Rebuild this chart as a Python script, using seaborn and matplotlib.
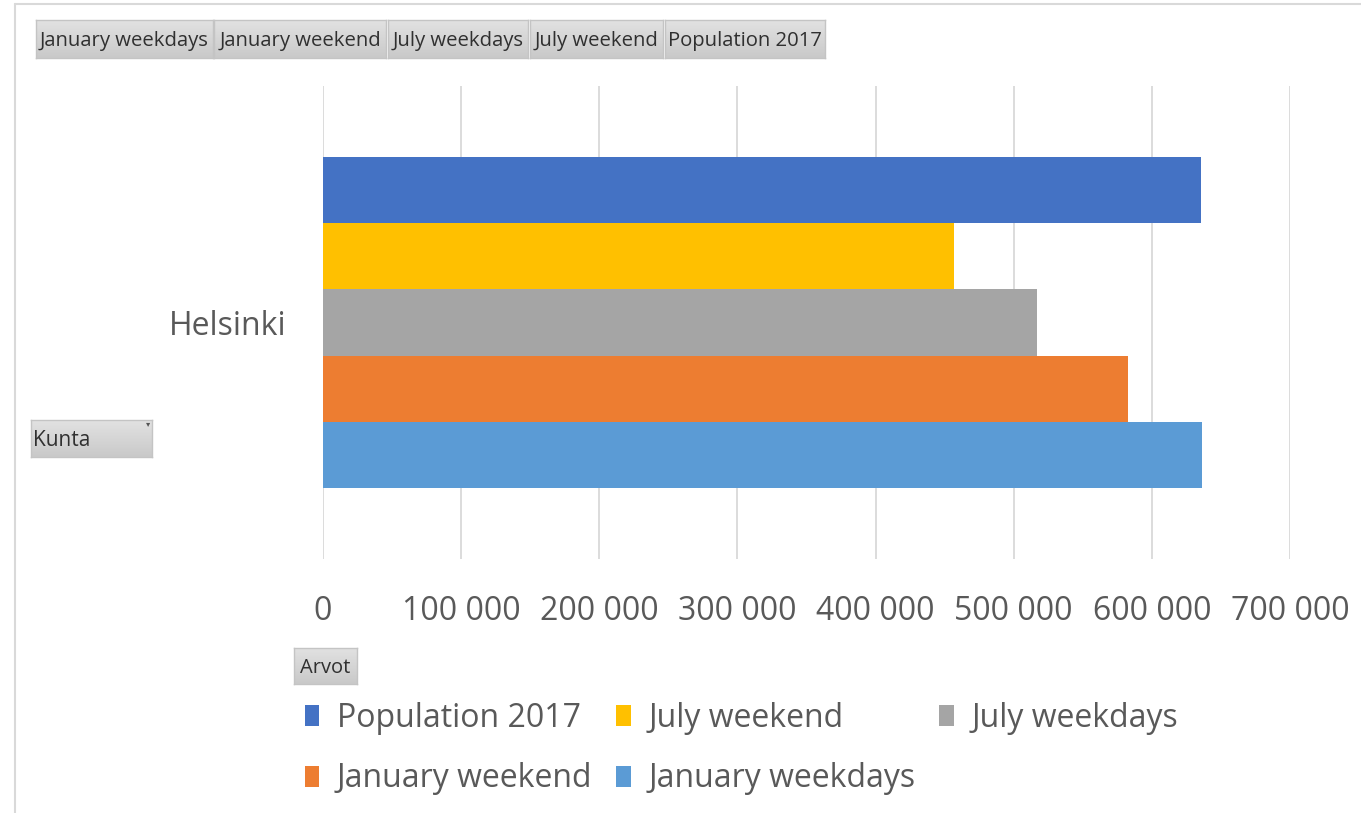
import matplotlib
matplotlib.use("Agg")
import matplotlib.pyplot as plt
from matplotlib.patches import Patch
from matplotlib.lines import Line2D
from matplotlib.ticker import FuncFormatter, MultipleLocator
from matplotlib.colors import LinearSegmentedColormap
import seaborn as sns
import pandas as pd
import numpy as np

# ---- data ----
categories = ["Helsinki"]
series = ["Population 2017", "July weekend", "July weekdays", "January weekend", "January weekdays"]
values = [635600, 457000, 517000, 583000, 636000]
colors = ["#4472C4", "#FFC000", "#A5A5A5", "#ED7D31", "#5B9BD5"]
button_labels = ["January weekdays", "January weekend", "July weekdays", "July weekend", "Population 2017"]
row_field = "Kunta"
value_field = "Arvot"

df = pd.DataFrame({
    "Kunta": [categories[0]] * len(series),
    "Series": series,
    "Value": values,
})

sns.set_style("white")
plt.rcParams["font.family"] = ["Open Sans", "DejaVu Sans"]

W, H = 1361, 813
fig = plt.figure(figsize=(W / 100, H / 100), dpi=100)

def fx(x):
    return x / W

def fy(y):
    return 1 - y / H

ax = fig.add_axes([fx(323), fy(559), (1290 - 323) / W, (559 - 86) / H])
sns.barplot(data=df, x="Value", y="Kunta", hue="Series", hue_order=series,
            palette=colors, saturation=1, width=0.7, errorbar=None,
            legend=False, ax=ax, edgecolor="none", linewidth=0)

ax.set_xlim(0, 700000)
ax.xaxis.set_major_locator(MultipleLocator(100000))
ax.xaxis.set_major_formatter(FuncFormatter(lambda v, p: f"{int(round(v)):,}".replace(",", " ")))
ax.grid(axis="x", color="#d9d9d9", linewidth=1.3)
ax.grid(axis="y", visible=False)
ax.set_axisbelow(True)
for s in ax.spines.values():
    s.set_visible(False)
ax.tick_params(axis="x", length=0, pad=26, labelsize=23, labelcolor="#595959")
ax.tick_params(axis="y", length=0, pad=26, labelsize=23, labelcolor="#595959")
ax.set_xlabel("")
ax.set_ylabel("")

# legend (row-major order as in reference)
handles = {s: Patch(facecolor=c, edgecolor="none") for s, c in zip(series, colors)}
order = ["Population 2017", "January weekend", "July weekend", "January weekdays", "July weekdays"]
fig.legend([handles[o] for o in order], order, loc="upper left",
           bbox_to_anchor=(fx(305), fy(702)), ncol=3, frameon=False,
           fontsize=23, labelcolor="#595959", handlelength=0.45, handleheight=0.65,
           handletextpad=0.55, columnspacing=0.75, labelspacing=0.86,
           borderpad=0, borderaxespad=0)

# gradient for buttons
grad = np.linspace(0, 1, 64).reshape(-1, 1)
bcmap = LinearSegmentedColormap.from_list("btn", ["#e2e2e2", "#c9c9c9"])

def button(x0, x1, y0, y1, text, ha="center", size=14.6):
    bax = fig.add_axes([fx(x0), fy(y1), (x1 - x0) / W, (y1 - y0) / H])
    bax.imshow(grad, aspect="auto", cmap=bcmap, extent=(0, 1, 0, 1), origin="upper")
    bax.set_xticks([])
    bax.set_yticks([])
    for s in bax.spines.values():
        s.set_color("#c4c4c4")
        s.set_linewidth(1)
    tx = (x0 + x1) / 2 if ha == "center" else x0 + 2
    fig.text(fx(tx), fy((y0 + y1) / 2 + 2), text, ha=ha, va="center",
             fontsize=size, color="#303030")

bx = [(36, 213), (214, 386), (388, 528), (530, 663), (665, 825)]
for (x0, x1), lab in zip(bx, button_labels):
    button(x0, x1, 20, 58, lab)

button(31, 152, 420, 457, row_field, ha="left", size=15)
fig.text(fx(148), fy(424), "\u25BE", fontsize=6, color="#555555", ha="center", va="center",
         family=["DejaVu Sans"])
button(294, 357, 648, 684, value_field, size=14.5)

# outer frame lines
fig.add_artist(Line2D([fx(15), fx(15)], [0, fy(4)], transform=fig.transFigure,
                      color="#d9d9d9", linewidth=1.5))
fig.add_artist(Line2D([fx(15), 1], [fy(4), fy(4)], transform=fig.transFigure,
                      color="#d9d9d9", linewidth=1.5))

fig.savefig("out.png", dpi=100, facecolor="white")
